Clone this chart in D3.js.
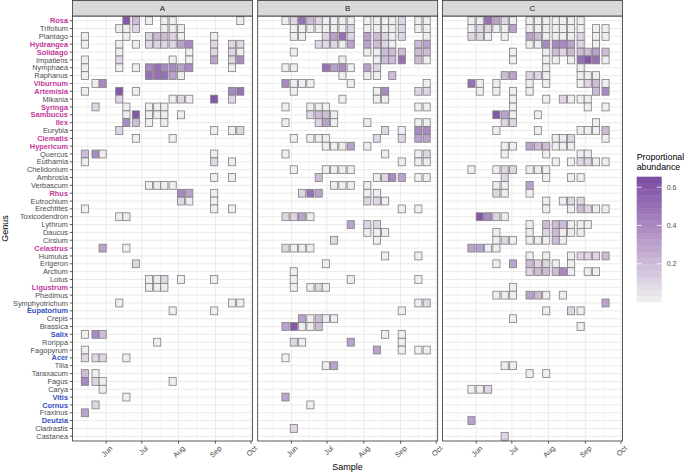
<!DOCTYPE html>
<html>
<head>
<meta charset="utf-8">
<script src="https://cdn.jsdelivr.net/npm/d3@7"></script>
<style>
  body { margin: 0; background: #fff; }
  text { font-family: "Liberation Sans", Arial, Helvetica, sans-serif; }
</style>
</head>
<body>
<script>

// genera, top to bottom
var genera = ["Rosa","Trifolium","Plantago","Hydrangea","Solidago","Impatiens","Nymphaea","Raphanus",
  "Viburnum","Artemisia","Mikania","Syringa","Sambucus","Ilex","Eurybia","Clematis","Hypericum","Quercus",
  "Euthamia","Chelidonium","Ambrosia","Verbascum","Rhus","Eutrochium","Erechtites","Toxicodendron","Lythrum",
  "Daucus","Cirsium","Celastrus","Humulus","Erigeron","Arctium","Lotus","Ligustrum","Phedimus","Symphyotrichum",
  "Eupatorium","Crepis","Brassica","Salix","Rorippa","Fagopyrum","Acer","Tilia","Taraxacum","Fagus","Carya",
  "Vitis","Cornus","Fraxinus","Deutzia","Cladrastis","Castanea"];

var pinkGenera = ["Rosa","Hydrangea","Solidago","Viburnum","Artemisia","Syringa","Sambucus","Ilex",
  "Clematis","Hypericum","Rhus","Celastrus","Ligustrum"];
var blueGenera = ["Eupatorium","Salix","Acer","Vitis","Cornus","Deutzia"];

var panels = ["A", "B", "C"];

// sample dates for each site
var datesA = ["2021-05-14","2021-05-23","2021-05-29","2021-06-12","2021-06-18","2021-06-26","2021-07-07",
  "2021-07-14","2021-07-20","2021-07-27","2021-08-03","2021-08-10","2021-08-31","2021-09-15","2021-09-22"];
var datesB = ["2021-05-27","2021-06-03","2021-06-10","2021-06-17","2021-06-24","2021-06-30","2021-07-07",
  "2021-07-14","2021-07-21","2021-08-04","2021-08-12","2021-08-19","2021-08-25","2021-09-02","2021-09-16","2021-09-23"];
var datesC = ["2021-05-28","2021-06-04","2021-06-11","2021-06-18","2021-06-25","2021-07-02","2021-07-16",
  "2021-07-23","2021-07-30","2021-08-07","2021-08-13","2021-08-20","2021-08-28","2021-09-03","2021-09-10","2021-09-18"];

// one string per genus, one character per sample date:
// "." = not detected, "0" = trace (~0.01), "1".."6" = abundance in tenths
var gridA = [
  "....620.00....0","...001..000....","0...0.12210.0..","0..0.0111134111","...0.......0110",
  "0..1.....0.0314","0..0.0454434.0.","0.....55530....",".04............","0..6.0.......45",
  "...1.....01061.",".1..0.000......","....06000.0....","....420.0......","...1........001",
  ".....0...0.....","...............","240.........0..","0...........10.","...............",
  "............00.","......0000.....","..........430..","..........100..","0...........00.",
  "...00..........","...............","...............","...............","..3.0..........",
  "...............",".....1.........","...............","......001.0.0..","......000......",
  "...............","...0.........00",".........0..0..","...............","...............",
  "042............",".......0.......","0..............","111.0..........","...............",
  "20.............","410......0.....","..0............","....0..........",".1.............",
  "3..............","...............","...............","..............."
];
var gridB = [
  "0152100000000100",".000000010000100",".00..135132101.0","....111033210.23",".0.......0022222",
  ".......0..022520","00...534031.....",".......0.00.2...","4000....0......0",".0........04..11",
  ".......0..00....","0..000........00","...1220.........","0...130..0....00","...........1.044",
  ".0.000....1..133",".....00030......","0..........0..01",".............000",".0...0000.......",
  "....2.....014300","......0000......","..153....00.....",".........110....",".............00.",
  "1130............","........311.....",".........000....","......1...0.....","1000............",
  "...........0..0.",".....0..........",".0..............",".0......0.....0.",".0.010..........",
  "................","..............01",".............0..","..30200.........","36002...........",
  "...........0.0..",".10.....3....0..","..........3..000","0...............",".....03.........",
  "................","................","................","3...............","...0............",
  "................","................",".1..............","................"
];
var gridC = [
  "0053100000000...","0110030000000.00","110.0.3200001.00","......0044431.0.",".....0..02122232",
  ".....0..00.05650","........0...0...","....23110...000.","50.0..0.0...0120",".0.0.00.......24",
  ".....0..0.1000..",".....0.......0.0","...630.0........","....11........0.","...0...0....0002",
  ".........001...0","....00322000....","....0...0...00..",".........0.01100","0..011000.......",
  "....1...0..00...","...00.3.........","...10.0.........","........0.011...","........0..02100",
  ".6410...........","......0.222000..","...0..0.12000...","...01000020.....","3300............",
  "......0.0..01112","...0.32110.0....","......122240.00.","................",".....0..........",
  "...000320.0.....","...............3","........0..10...",".....0..........","............0...",
  "................","................","................","................","....00..........",
  "......0.0.......","................","001.............","................","................",
  "................","3...............","................","....1..........."
];

var monthTicks = ["2021-06-01","2021-07-01","2021-08-01","2021-09-01","2021-10-01"];
var monthLabels = ["Jun","Jul","Aug","Sep","Oct"];
var legendTicks = [0.2, 0.4, 0.6];

var parse = d3.utcParse("%Y-%m-%d");
var dayMs = 86400000;

function buildCells(dates, grid) {
  var cells = [];
  grid.forEach(function(row, gi) {
    row.split("").forEach(function(ch, di) {
      if (ch === ".") return;
      var d = +ch;
      cells.push({ genus: genera[gi], date: parse(dates[di]), value: d === 0 ? 0.01 : d / 10 });
    });
  });
  return cells;
}

var panelData = [buildCells(datesA, gridA), buildCells(datesB, gridB), buildCells(datesC, gridC)];

var width = 685, height = 472;
var panelLeft = [72.5, 257.7, 442.5],
    panelW = 180,
    plotTop = 16,
    plotBottom = 441,
    stripTop = 0.5;

var svg = d3.select("body").append("svg")
    .attr("width", width)
    .attr("height", height);

var x = d3.scaleUtc()
    .domain([new Date(Date.UTC(2021, 4, 3, 14)), new Date(Date.UTC(2021, 9, 2, 7))])
    .range([0, panelW]);

var y = d3.scalePoint()
    .domain(genera)
    .range([plotTop, plotBottom])
    .padding(0.6);
var step = y.step();

var color = d3.scaleLinear()
    .domain([0, 0.655])
    .range(["#f0f0f0", "#7b4aa2"])
    .interpolate(d3.interpolateLab);

var majors = monthTicks.map(parse);
var minors = [];
var allMonths = [parse("2021-05-01")].concat(majors);
for (var i = 0; i < allMonths.length - 1; i++) {
  minors.push(new Date((+allMonths[i] + +allMonths[i + 1]) / 2));
}

panels.forEach(function(name, pi) {
  var g = svg.append("g").attr("transform", "translate(" + panelLeft[pi] + ",0)");

  g.append("rect")
      .attr("x", 0).attr("y", plotTop)
      .attr("width", panelW).attr("height", plotBottom - plotTop)
      .attr("fill", "#fff");

  // grid
  g.selectAll(".hgrid").data(genera).enter().append("line")
      .attr("x1", 0).attr("x2", panelW)
      .attr("y1", function(d) { return y(d); })
      .attr("y2", function(d) { return y(d); })
      .attr("stroke", "#ebebeb").attr("stroke-width", 1);

  g.selectAll(".vminor").data(minors.filter(function(d) { return x(d) > 0 && x(d) < panelW; }))
    .enter().append("line")
      .attr("x1", function(d) { return x(d); }).attr("x2", function(d) { return x(d); })
      .attr("y1", plotTop).attr("y2", plotBottom)
      .attr("stroke", "#ebebeb").attr("stroke-width", 0.5);

  g.selectAll(".vmajor").data(majors).enter().append("line")
      .attr("x1", function(d) { return x(d); }).attr("x2", function(d) { return x(d); })
      .attr("y1", plotTop).attr("y2", plotBottom)
      .attr("stroke", "#ebebeb").attr("stroke-width", 1);

  // tiles
  g.selectAll(".tile").data(panelData[pi]).enter().append("rect")
      .attr("x", function(d) { return x(new Date(+d.date - 3 * dayMs)); })
      .attr("y", function(d) { return y(d.genus) - step / 2; })
      .attr("width", function(d) { return x(new Date(+d.date + 3 * dayMs)) - x(new Date(+d.date - 3 * dayMs)); })
      .attr("height", step)
      .attr("fill", function(d) { return color(d.value); })
      .attr("stroke", "#7f7f7f")
      .attr("stroke-width", 0.8);

  // border
  g.append("rect")
      .attr("x", 0).attr("y", plotTop)
      .attr("width", panelW).attr("height", plotBottom - plotTop)
      .attr("fill", "none").attr("stroke", "#333").attr("stroke-width", 0.8);

  // strip
  g.append("rect")
      .attr("x", 0).attr("y", stripTop)
      .attr("width", panelW).attr("height", plotTop - stripTop)
      .attr("fill", "#d9d9d9").attr("stroke", "#333").attr("stroke-width", 0.8);
  g.append("text")
      .attr("x", panelW / 2).attr("y", (stripTop + plotTop) / 2)
      .attr("dy", "0.35em")
      .attr("text-anchor", "middle")
      .attr("font-size", "8px")
      .attr("fill", "#1a1a1a")
      .text(name);

  // x axis
  g.selectAll(".xtick").data(majors).enter().append("line")
      .attr("x1", function(d) { return x(d); }).attr("x2", function(d) { return x(d); })
      .attr("y1", plotBottom).attr("y2", plotBottom + 2.7)
      .attr("stroke", "#333").attr("stroke-width", 0.8);

  g.selectAll(".xlab").data(majors).enter().append("text")
      .attr("transform", function(d) { return "translate(" + (x(d) + 3) + "," + (plotBottom + 4) + ") rotate(-45)"; })
      .attr("dy", "0.71em")
      .attr("text-anchor", "end")
      .attr("font-size", "7.4px")
      .attr("fill", "#4d4d4d")
      .text(function(d, i) { return monthLabels[i]; });
});

// y axis on first panel
var ya = svg.append("g").attr("transform", "translate(" + panelLeft[0] + ",0)");
ya.selectAll(".ytick").data(genera).enter().append("line")
    .attr("x1", -2.7).attr("x2", 0)
    .attr("y1", function(d) { return y(d); })
    .attr("y2", function(d) { return y(d); })
    .attr("stroke", "#333").attr("stroke-width", 0.8);

ya.selectAll(".ylab").data(genera).enter().append("text")
    .attr("x", -4.5)
    .attr("y", function(d) { return y(d); })
    .attr("dy", "0.35em")
    .attr("text-anchor", "end")
    .attr("font-size", "7.4px")
    .attr("font-weight", function(d) {
      return (pinkGenera.indexOf(d) >= 0 || blueGenera.indexOf(d) >= 0) ? "bold" : "normal";
    })
    .attr("fill", function(d) {
      if (pinkGenera.indexOf(d) >= 0) return "#c4379c";
      if (blueGenera.indexOf(d) >= 0) return "#3a4fbf";
      return "#4d4d4d";
    })
    .text(function(d) { return d; });

// axis titles
svg.append("text")
    .attr("x", (panelLeft[0] + panelLeft[2] + panelW) / 2)
    .attr("y", 470)
    .attr("text-anchor", "middle")
    .attr("font-size", "9px")
    .attr("fill", "#000")
    .text("Sample");

svg.append("text")
    .attr("transform", "translate(8.3," + (plotTop + plotBottom) / 2 + ") rotate(-90)")
    .attr("text-anchor", "middle")
    .attr("font-size", "9px")
    .attr("fill", "#000")
    .text("Genus");

// legend
var legX = 636.7, legW = 25, legTop = 176.7, legBottom = 302;
var ly = d3.scaleLinear().domain([0, 0.655]).range([legBottom, legTop]);

svg.append("text")
    .attr("x", legX).attr("y", 159.8)
    .attr("font-size", "8.8px").attr("fill", "#000")
    .text("Proportional");
svg.append("text")
    .attr("x", legX).attr("y", 169.8)
    .attr("font-size", "8.8px").attr("fill", "#000")
    .text("abundance");

var nbin = 20;
var bins = d3.range(nbin).map(function(i) { return 0.655 * i / nbin; });
svg.selectAll(".bin").data(bins).enter().append("rect")
    .attr("x", legX)
    .attr("y", function(d) { return ly(d + 0.655 / nbin); })
    .attr("width", legW)
    .attr("height", function(d) { return ly(d) - ly(d + 0.655 / nbin) + 0.3; })
    .attr("fill", function(d) { return color(d + 0.655 / nbin / 2); });

legendTicks.forEach(function(t) {
  svg.append("line")
      .attr("x1", legX).attr("x2", legX + 5)
      .attr("y1", ly(t)).attr("y2", ly(t))
      .attr("stroke", "#fff").attr("stroke-width", 0.8);
  svg.append("line")
      .attr("x1", legX + legW - 5).attr("x2", legX + legW)
      .attr("y1", ly(t)).attr("y2", ly(t))
      .attr("stroke", "#fff").attr("stroke-width", 0.8);
  svg.append("text")
      .attr("x", legX + legW + 5)
      .attr("y", ly(t))
      .attr("dy", "0.35em")
      .attr("font-size", "7px")
      .attr("fill", "#4d4d4d")
      .text(t.toFixed(1));
});

</script>
</body>
</html>
